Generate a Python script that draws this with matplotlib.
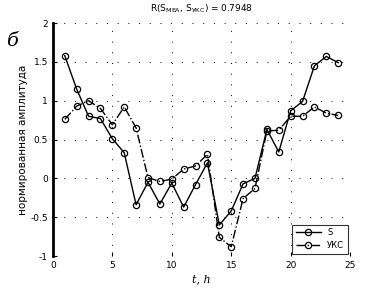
import numpy as np
import matplotlib
matplotlib.use('Agg')
import matplotlib.pyplot as plt

plt.rcParams['font.family'] = ['DejaVu Sans']

# ==================== данные ====================
hours = [1, 2, 3, 4, 5, 6, 7, 8, 9, 10, 11, 12,
         13, 14, 15, 16, 17, 18, 19, 20, 21, 22, 23, 24]
s_mea = [1.58, 1.15, 0.80, 0.77, 0.51, 0.33, -0.34, -0.05, -0.33, -0.06, -0.37, -0.08,
         0.20, -0.60, -0.42, -0.07, 0.00, 0.63, 0.34, 0.87, 0.99, 1.45, 1.57, 1.49]
s_ukc = [0.76, 0.93, 1.00, 0.90, 0.69, 0.92, 0.65, 0.01, -0.04, -0.01, 0.12, 0.16,
         0.31, -0.76, -0.88, -0.26, -0.13, 0.61, 0.62, 0.80, 0.80, 0.92, 0.84, 0.81]
r_value = 0.7948

# ==================== рисунок ====================
fig = plt.figure(figsize=(3.86, 2.88), dpi=100)
ax = fig.add_axes([0.137, 0.111, 0.770, 0.809])

ax.plot(hours, s_mea, '-', color='black', lw=1.0, marker='o', ms=4.5,
        mfc='none', mew=0.9, label='S')
ax.plot(hours, s_ukc, '-.', color='black', lw=1.0, marker='o', ms=4.5,
        mfc='none', mew=0.9, label='УКС')

ax.set_xlim(0, 25)
ax.set_ylim(-1, 2)
ax.set_xticks([0, 5, 10, 15, 20, 25])
ax.set_yticks([-1, -0.5, 0, 0.5, 1, 1.5, 2])
ax.set_yticklabels(['-1', '-0.5', '0', '0.5', '1', '1.5', '2'])
ax.tick_params(labelsize=6.5, length=3, direction='in', width=0.8)

for side in ['top', 'right', 'bottom']:
    ax.spines[side].set_visible(False)
ax.spines['left'].set_linewidth(2)

ax.grid(True, color='black', linestyle=(0, (1, 10)), lw=0.7)

ax.set_title('R(S$_{\\mathregular{MEA}}$, S$_{\\mathregular{УКС}}$) = %.4f' % r_value,
             fontsize=6.5, pad=8)
ax.set_ylabel('нормированная амплитуда', fontsize=7.5, labelpad=2)
ax.set_xlabel('t, h', fontsize=8, style='italic', family='DejaVu Serif', labelpad=3)

fig.text(0.015, 0.84, 'б', fontsize=14, style='italic', family='DejaVu Serif')

leg = ax.legend(loc='lower right', fontsize=6, frameon=True, fancybox=False,
                edgecolor='black', borderaxespad=0.3, handlelength=3.0)
leg.get_frame().set_linewidth(0.8)

fig.savefig('out.png', dpi=100)
